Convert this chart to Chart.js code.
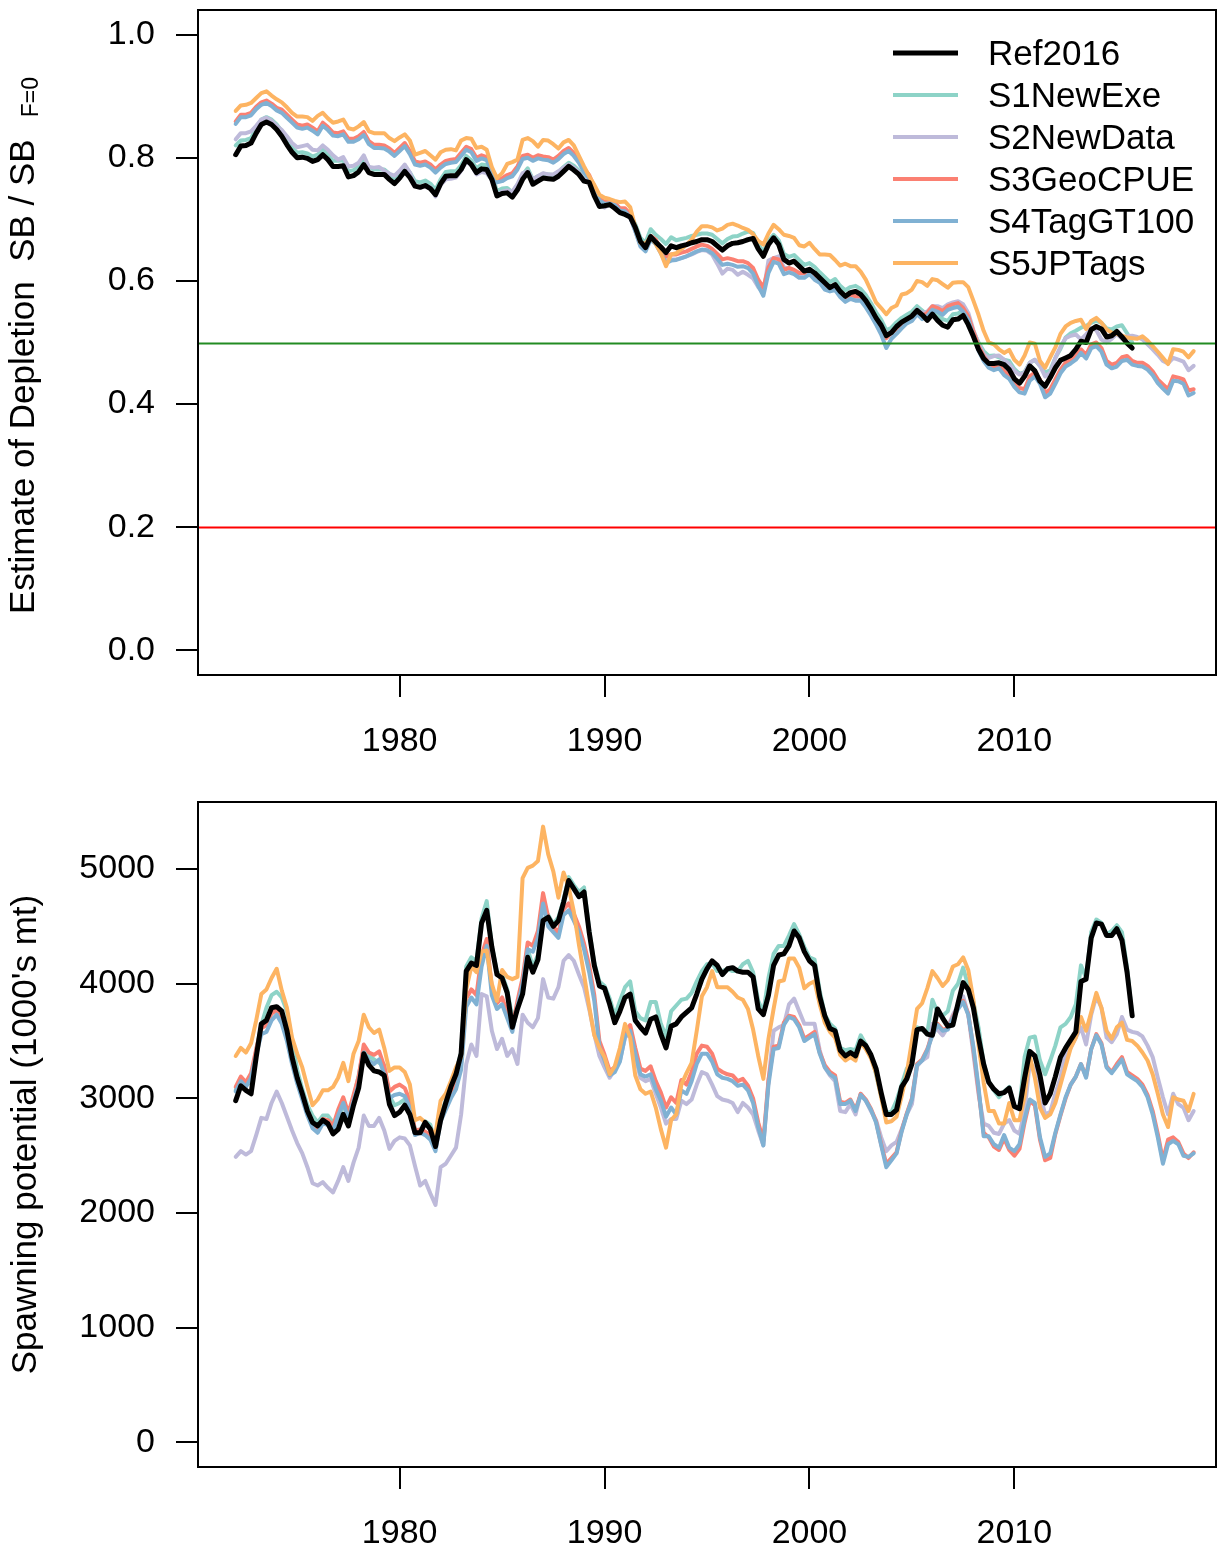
<!DOCTYPE html>
<html>
<head>
<meta charset="utf-8">
<script src="https://cdn.jsdelivr.net/npm/chart.js@4.4.1/dist/chart.umd.min.js"></script>
<style>
  html, body { margin: 0; padding: 0; background: #fff; }
  .panel { position: absolute; left: 0; width: 1225px; height: 776px; }
  #top-panel { top: 0; }
  #bottom-panel { top: 776px; }
</style>
</head>
<body>
<div class="panel" id="top-panel"><canvas id="depletion-chart"></canvas></div>
<div class="panel" id="bottom-panel"><canvas id="spawning-chart"></canvas></div>
<script>
// quarterly model output, 1972.00 .. 2018.75 (Ref2016 and S1 stop at 2015.75)
const seriesNames = ['Ref2016', 'S1NewExe', 'S2NewData', 'S3GeoCPUE', 'S4TagGT100', 'S5JPTags'];
const seriesColors = ['#000000', '#8DD3C7', '#BEBADA', '#FB8072', '#80B1D3', '#FDB462'];
const firstYear = 1972;
const quarterYears = Array.from({ length: 188 }, (_, i) => firstYear + i / 4);

const yearTicks = [1980, 1990, 2000, 2010];
const depletionTicks = [0, 0.2, 0.4, 0.6, 0.8, 1.0];
const spawningTicks = [0, 1000, 2000, 3000, 4000, 5000];
const depletionRefLevels = [0.5, 0.2];
const depletionRefColors = ['#228B22', '#FF0000'];

const refDepletion = [
  0.805, 0.819, 0.820, 0.824, 0.840, 0.854, 0.858, 0.854, 0.846, 0.835,
  0.821, 0.809, 0.800, 0.801, 0.799, 0.794, 0.797, 0.805, 0.797, 0.786,
  0.786, 0.787, 0.769, 0.771, 0.777, 0.789, 0.776, 0.773, 0.773, 0.773,
  0.765, 0.758, 0.767, 0.778, 0.768, 0.754, 0.752, 0.755, 0.750, 0.740,
  0.758, 0.770, 0.771, 0.771, 0.781, 0.797, 0.789, 0.776, 0.782, 0.781,
  0.765, 0.738, 0.742, 0.743, 0.736, 0.748, 0.765, 0.776, 0.757, 0.762,
  0.767, 0.766, 0.765, 0.770, 0.778, 0.786, 0.780, 0.773, 0.762, 0.760,
  0.738, 0.721, 0.722, 0.724, 0.718, 0.711, 0.708, 0.704, 0.687, 0.664,
  0.654, 0.672, 0.663, 0.655, 0.646, 0.657, 0.654, 0.657, 0.659, 0.662,
  0.664, 0.667, 0.667, 0.664, 0.657, 0.650, 0.657, 0.661, 0.662, 0.664,
  0.667, 0.669, 0.652, 0.640, 0.659, 0.670, 0.659, 0.635, 0.629, 0.632,
  0.624, 0.616, 0.619, 0.613, 0.605, 0.597, 0.589, 0.594, 0.583, 0.575,
  0.581, 0.583, 0.578, 0.568, 0.555, 0.540, 0.528, 0.511, 0.516, 0.526,
  0.533, 0.538, 0.543, 0.552, 0.545, 0.536, 0.546, 0.536, 0.528, 0.525,
  0.537, 0.538, 0.544, 0.529, 0.510, 0.489, 0.474, 0.466, 0.466, 0.467,
  0.464, 0.456, 0.441, 0.434, 0.445, 0.462, 0.454, 0.437, 0.429, 0.443,
  0.459, 0.471, 0.475, 0.479, 0.489, 0.502, 0.500, 0.521, 0.526, 0.522,
  0.509, 0.511, 0.518, 0.509, 0.499, 0.491
];
const s1Depletion = [
  0.820, 0.828, 0.829, 0.832, 0.848, 0.862, 0.866, 0.862, 0.854, 0.843,
  0.829, 0.817, 0.808, 0.809, 0.807, 0.802, 0.805, 0.813, 0.805, 0.795,
  0.795, 0.796, 0.778, 0.780, 0.786, 0.797, 0.785, 0.781, 0.781, 0.781,
  0.774, 0.767, 0.775, 0.786, 0.776, 0.762, 0.760, 0.763, 0.758, 0.748,
  0.765, 0.777, 0.778, 0.778, 0.788, 0.803, 0.796, 0.783, 0.789, 0.788,
  0.772, 0.746, 0.750, 0.751, 0.744, 0.756, 0.772, 0.783, 0.765, 0.770,
  0.774, 0.773, 0.772, 0.777, 0.785, 0.792, 0.787, 0.779, 0.768, 0.766,
  0.744, 0.727, 0.727, 0.729, 0.723, 0.716, 0.713, 0.709, 0.692, 0.670,
  0.662, 0.684, 0.675, 0.668, 0.660, 0.671, 0.666, 0.668, 0.670, 0.673,
  0.675, 0.677, 0.677, 0.675, 0.668, 0.661, 0.668, 0.672, 0.673, 0.677,
  0.680, 0.678, 0.660, 0.647, 0.665, 0.675, 0.666, 0.644, 0.639, 0.642,
  0.634, 0.626, 0.629, 0.623, 0.614, 0.606, 0.598, 0.603, 0.592, 0.585,
  0.590, 0.592, 0.587, 0.577, 0.564, 0.549, 0.537, 0.520, 0.524, 0.533,
  0.540, 0.545, 0.550, 0.559, 0.552, 0.544, 0.553, 0.545, 0.538, 0.535,
  0.546, 0.547, 0.552, 0.538, 0.518, 0.500, 0.486, 0.478, 0.479, 0.476,
  0.472, 0.470, 0.457, 0.449, 0.452, 0.467, 0.472, 0.462, 0.451, 0.455,
  0.475, 0.490, 0.508, 0.515, 0.519, 0.524, 0.527, 0.532, 0.535, 0.532,
  0.523, 0.521, 0.526, 0.528, 0.515, 0.500
];
const s2Depletion = [
  0.830, 0.840, 0.840, 0.843, 0.852, 0.862, 0.865, 0.860, 0.852, 0.845,
  0.835, 0.824, 0.817, 0.819, 0.821, 0.813, 0.812, 0.820, 0.813, 0.804,
  0.797, 0.801, 0.786, 0.787, 0.792, 0.804, 0.785, 0.784, 0.785, 0.779,
  0.774, 0.771, 0.779, 0.789, 0.776, 0.755, 0.752, 0.755, 0.752, 0.737,
  0.756, 0.765, 0.766, 0.768, 0.779, 0.794, 0.788, 0.773, 0.777, 0.775,
  0.764, 0.740, 0.745, 0.747, 0.745, 0.757, 0.775, 0.778, 0.765, 0.770,
  0.775, 0.773, 0.773, 0.778, 0.784, 0.789, 0.784, 0.776, 0.765, 0.763,
  0.740, 0.724, 0.719, 0.724, 0.719, 0.711, 0.708, 0.703, 0.681, 0.658,
  0.652, 0.670, 0.662, 0.648, 0.636, 0.635, 0.635, 0.637, 0.640, 0.643,
  0.647, 0.650, 0.649, 0.643, 0.628, 0.612, 0.620, 0.618, 0.610, 0.615,
  0.610, 0.604, 0.590, 0.581, 0.633, 0.637, 0.640, 0.622, 0.620, 0.617,
  0.610, 0.609, 0.616, 0.606, 0.602, 0.591, 0.587, 0.589, 0.578, 0.570,
  0.575, 0.573, 0.573, 0.562, 0.551, 0.537, 0.521, 0.513, 0.518, 0.524,
  0.529, 0.537, 0.543, 0.554, 0.548, 0.550, 0.559, 0.559, 0.556, 0.562,
  0.565, 0.567, 0.562, 0.548, 0.520, 0.499, 0.481, 0.475, 0.478, 0.479,
  0.472, 0.465, 0.454, 0.448, 0.451, 0.467, 0.472, 0.462, 0.445, 0.451,
  0.475, 0.493, 0.507, 0.511, 0.513, 0.505, 0.513, 0.524, 0.520, 0.505,
  0.500, 0.506, 0.514, 0.506, 0.510, 0.511, 0.509, 0.505, 0.497, 0.489,
  0.480, 0.470, 0.466, 0.475, 0.472, 0.469, 0.455, 0.462
];
const s3Depletion = [
  0.859, 0.870, 0.870, 0.873, 0.883, 0.890, 0.893, 0.888, 0.881, 0.878,
  0.870, 0.862, 0.854, 0.852, 0.854, 0.849, 0.843, 0.857, 0.850, 0.841,
  0.840, 0.843, 0.831, 0.831, 0.835, 0.842, 0.827, 0.821, 0.821, 0.820,
  0.815, 0.808, 0.816, 0.824, 0.811, 0.794, 0.792, 0.794, 0.789, 0.781,
  0.789, 0.795, 0.797, 0.798, 0.808, 0.818, 0.814, 0.800, 0.804, 0.801,
  0.781, 0.765, 0.767, 0.772, 0.775, 0.786, 0.803, 0.805, 0.800, 0.804,
  0.802, 0.801, 0.797, 0.803, 0.811, 0.816, 0.808, 0.797, 0.782, 0.772,
  0.752, 0.735, 0.728, 0.729, 0.727, 0.718, 0.718, 0.709, 0.686, 0.662,
  0.655, 0.673, 0.667, 0.652, 0.640, 0.643, 0.643, 0.646, 0.648, 0.652,
  0.656, 0.659, 0.657, 0.652, 0.644, 0.635, 0.637, 0.635, 0.632, 0.632,
  0.629, 0.621, 0.602, 0.589, 0.622, 0.637, 0.635, 0.618, 0.621, 0.618,
  0.613, 0.613, 0.618, 0.610, 0.605, 0.594, 0.591, 0.592, 0.581, 0.573,
  0.578, 0.575, 0.575, 0.564, 0.551, 0.537, 0.522, 0.507, 0.516, 0.521,
  0.529, 0.537, 0.540, 0.551, 0.543, 0.548, 0.559, 0.556, 0.551, 0.559,
  0.562, 0.564, 0.556, 0.543, 0.518, 0.494, 0.478, 0.466, 0.461, 0.464,
  0.453, 0.448, 0.435, 0.426, 0.424, 0.445, 0.451, 0.440, 0.418, 0.424,
  0.440, 0.456, 0.467, 0.472, 0.478, 0.489, 0.480, 0.497, 0.500, 0.491,
  0.470, 0.464, 0.467, 0.476, 0.478, 0.470, 0.467, 0.467, 0.462, 0.453,
  0.440, 0.432, 0.424, 0.445, 0.443, 0.440, 0.422, 0.424
];
const s4Depletion = [
  0.855, 0.866, 0.866, 0.869, 0.879, 0.886, 0.889, 0.884, 0.877, 0.873,
  0.865, 0.857, 0.849, 0.847, 0.849, 0.844, 0.838, 0.852, 0.845, 0.836,
  0.835, 0.838, 0.826, 0.826, 0.830, 0.837, 0.822, 0.816, 0.816, 0.815,
  0.810, 0.803, 0.811, 0.819, 0.806, 0.789, 0.787, 0.789, 0.784, 0.776,
  0.784, 0.790, 0.792, 0.793, 0.803, 0.813, 0.809, 0.795, 0.799, 0.796,
  0.776, 0.760, 0.762, 0.767, 0.770, 0.781, 0.798, 0.800, 0.795, 0.799,
  0.797, 0.796, 0.792, 0.798, 0.806, 0.811, 0.803, 0.792, 0.777, 0.767,
  0.748, 0.731, 0.725, 0.726, 0.723, 0.714, 0.713, 0.704, 0.681, 0.656,
  0.648, 0.667, 0.660, 0.645, 0.629, 0.633, 0.634, 0.637, 0.640, 0.644,
  0.648, 0.651, 0.650, 0.645, 0.636, 0.626, 0.628, 0.626, 0.623, 0.624,
  0.621, 0.612, 0.592, 0.576, 0.613, 0.631, 0.628, 0.611, 0.614, 0.611,
  0.605, 0.605, 0.611, 0.602, 0.597, 0.586, 0.583, 0.585, 0.574, 0.566,
  0.571, 0.568, 0.568, 0.557, 0.544, 0.529, 0.513, 0.491, 0.506, 0.514,
  0.523, 0.531, 0.535, 0.546, 0.538, 0.543, 0.553, 0.550, 0.545, 0.553,
  0.556, 0.558, 0.550, 0.537, 0.511, 0.487, 0.470, 0.459, 0.455, 0.458,
  0.447, 0.441, 0.428, 0.419, 0.417, 0.438, 0.445, 0.433, 0.411, 0.417,
  0.433, 0.450, 0.461, 0.466, 0.472, 0.483, 0.474, 0.491, 0.494, 0.485,
  0.464, 0.458, 0.461, 0.470, 0.472, 0.464, 0.462, 0.461, 0.456, 0.447,
  0.434, 0.425, 0.417, 0.438, 0.437, 0.433, 0.414, 0.418
];
const s5Depletion = [
  0.876, 0.885, 0.886, 0.889, 0.897, 0.905, 0.908, 0.901, 0.895, 0.890,
  0.882, 0.873, 0.867, 0.867, 0.866, 0.860, 0.868, 0.873, 0.864, 0.857,
  0.859, 0.862, 0.848, 0.846, 0.851, 0.858, 0.843, 0.840, 0.840, 0.840,
  0.832, 0.827, 0.833, 0.838, 0.828, 0.805, 0.808, 0.811, 0.804, 0.797,
  0.809, 0.813, 0.814, 0.812, 0.828, 0.832, 0.831, 0.816, 0.818, 0.813,
  0.785, 0.767, 0.775, 0.790, 0.793, 0.797, 0.829, 0.832, 0.827, 0.818,
  0.829, 0.828, 0.822, 0.815, 0.825, 0.829, 0.820, 0.803, 0.786, 0.770,
  0.756, 0.740, 0.735, 0.733, 0.730, 0.728, 0.729, 0.720, 0.687, 0.662,
  0.660, 0.672, 0.660, 0.645, 0.624, 0.643, 0.645, 0.652, 0.659, 0.667,
  0.680, 0.689, 0.689, 0.687, 0.682, 0.685, 0.691, 0.693, 0.690, 0.686,
  0.683, 0.676, 0.665, 0.659, 0.677, 0.691, 0.684, 0.675, 0.673, 0.670,
  0.658, 0.656, 0.662, 0.652, 0.643, 0.643, 0.642, 0.634, 0.625, 0.628,
  0.624, 0.624, 0.615, 0.602, 0.584, 0.565, 0.556, 0.546, 0.556, 0.560,
  0.578, 0.580, 0.586, 0.600, 0.598, 0.592, 0.603, 0.601, 0.595, 0.589,
  0.597, 0.598, 0.598, 0.590, 0.568, 0.545, 0.519, 0.500, 0.497, 0.489,
  0.483, 0.488, 0.472, 0.464, 0.479, 0.500, 0.498, 0.470, 0.459, 0.476,
  0.492, 0.514, 0.526, 0.532, 0.535, 0.537, 0.522, 0.535, 0.540, 0.532,
  0.521, 0.516, 0.514, 0.511, 0.508, 0.507, 0.506, 0.510, 0.503, 0.494,
  0.485, 0.475, 0.465, 0.489, 0.488, 0.485, 0.476, 0.486
];

const refSpawning = [
  2980, 3110, 3070, 3040, 3360, 3650, 3680, 3790, 3800, 3760,
  3590, 3360, 3180, 3040, 2890, 2790, 2760, 2810, 2780, 2690,
  2730, 2860, 2760, 2940, 3090, 3390, 3290, 3240, 3230, 3200,
  2950, 2850, 2880, 2940, 2860, 2700, 2700, 2790, 2730, 2580,
  2810, 2960, 3100, 3210, 3390, 4110, 4180, 4160, 4530, 4640,
  4320, 4080, 4050, 3920, 3620, 3780, 3910, 4230, 4100, 4210,
  4550, 4580, 4500, 4550, 4710, 4900, 4830, 4760, 4800, 4450,
  4160, 3980, 3960, 3820, 3660, 3760, 3880, 3910, 3680, 3620,
  3570, 3690, 3710, 3560, 3440, 3630, 3650, 3710, 3750, 3790,
  3910, 4040, 4130, 4200, 4160, 4080, 4130, 4140, 4110, 4100,
  4100, 4060, 3780, 3730, 3900, 4160, 4250, 4260, 4330, 4460,
  4400, 4280, 4200, 4160, 3890, 3720, 3610, 3590, 3420, 3370,
  3400, 3370, 3500, 3460, 3380, 3260, 3050, 2860, 2860, 2900,
  3100, 3170, 3300, 3600, 3610, 3560, 3550, 3780, 3700, 3630,
  3640, 3830, 4010, 3950, 3790, 3530, 3300, 3140, 3080, 3040,
  3050, 3090, 2930, 2910, 3180, 3410, 3370, 3200, 2960, 3040,
  3190, 3360, 3440, 3510, 3580, 4020, 4040, 4400, 4530, 4520,
  4420, 4420, 4480, 4380, 4100, 3720
];
const s1Spawning = [
  3070, 3180, 3140, 3130, 3420, 3640, 3790, 3900, 3930, 3880,
  3760, 3500, 3250, 3080, 2940, 2850, 2790, 2850, 2850, 2790,
  2820, 2950, 2830, 3000, 3200, 3430, 3370, 3340, 3310, 3290,
  3020, 2940, 2960, 2990, 2900, 2730, 2720, 2800, 2770, 2600,
  2850, 2980, 3110, 3230, 3400, 4150, 4230, 4200, 4570, 4720,
  4330, 4100, 4080, 3950, 3700, 3800, 3960, 4300, 4150, 4250,
  4560, 4600, 4520, 4580, 4730, 4930, 4860, 4800, 4840, 4470,
  4180, 4020, 3980, 3870, 3720, 3850, 3970, 4020, 3760, 3700,
  3680, 3840, 3840, 3650, 3540, 3760, 3810, 3860, 3870, 3920,
  4020, 4110, 4170, 4180, 4110, 4110, 4130, 4110, 4110, 4170,
  4200, 4100, 3850, 3750, 4050, 4260, 4330, 4330, 4420, 4520,
  4430, 4320, 4230, 4210, 3940, 3730, 3650, 3610, 3440, 3420,
  3430, 3420, 3550, 3470, 3380, 3210, 3020, 2880, 2880, 2980,
  3120, 3260, 3310, 3620, 3600, 3570, 3860, 3750, 3720, 3760,
  3940, 4000, 4140, 3980, 3840, 3620, 3310, 3150, 3070, 3010,
  3060, 3100, 2930, 2920, 3360, 3530, 3540, 3330, 3210, 3330,
  3460, 3620, 3650, 3710, 3820, 4160, 4050, 4450, 4560, 4530,
  4430, 4460, 4510, 4450, 4140, 3720
];
const s2Spawning = [
  2490, 2540, 2510, 2540, 2680, 2830, 2820, 2960, 3060, 2960,
  2840, 2720, 2610, 2520, 2400, 2260, 2240, 2270, 2220, 2180,
  2280, 2400, 2280, 2440, 2570, 2850, 2760, 2760, 2830, 2720,
  2560, 2630, 2660, 2650, 2590, 2410, 2240, 2280, 2170, 2070,
  2400, 2430, 2500, 2570, 2860, 3300, 3470, 3370, 3910, 3890,
  3590, 3430, 3520, 3370, 3430, 3300, 3730, 3660, 3620, 3700,
  4040, 3880, 3870, 3970, 4200, 4250, 4200, 4080, 3970, 3780,
  3560, 3370, 3270, 3180, 3250, 3330, 3530, 3570, 3370, 3180,
  3150, 3170, 3040, 2920, 2780, 2820, 2820, 2980, 2950, 2990,
  3120, 3230, 3210, 3120, 3020, 2990, 2980, 2960, 2880, 2960,
  2920, 2860, 2720, 2590, 3150, 3590, 3620, 3640, 3820, 3870,
  3760, 3650, 3650, 3650, 3420, 3270, 3200, 3150, 2890, 2880,
  2950, 2860, 3040, 2980, 2890, 2810, 2660, 2540, 2590, 2620,
  2730, 2860, 2950, 3280, 3330, 3360, 3650, 3600, 3550, 3620,
  3730, 3810, 3890, 3730, 3390, 3040, 2780, 2760, 2700, 2690,
  2780, 2810, 2720, 2690, 2890, 3310, 3260, 3040, 2860, 2880,
  3040, 3180, 3390, 3440, 3530, 3620, 3470, 3730, 3890, 3790,
  3530, 3490, 3560, 3710, 3600, 3580, 3570, 3540, 3460, 3360,
  3180, 3010, 2860, 3040, 2950, 2920, 2810, 2890
];
const s3Spawning = [
  3100, 3190, 3140, 3220, 3430, 3610, 3640, 3740, 3770, 3700,
  3550, 3350, 3180, 3030, 2890, 2780, 2740, 2820, 2810, 2760,
  2900, 3010, 2870, 3030, 3190, 3470, 3400, 3380, 3410, 3280,
  3060, 3100, 3120, 3090, 2980, 2720, 2730, 2710, 2680, 2560,
  2840, 2940, 3040, 3120, 3310, 3870, 3950, 3900, 4250, 4390,
  3960, 3830, 3880, 3750, 3620, 3850, 4050, 4360, 4330, 4460,
  4790, 4580, 4500, 4440, 4650, 4700, 4610, 4500, 4350, 4160,
  3900, 3500, 3380, 3240, 3270, 3360, 3580, 3640, 3440, 3260,
  3240, 3280, 3150, 3050, 2920, 3010, 2960, 3160, 3120, 3230,
  3390, 3460, 3450, 3390, 3260, 3230, 3210, 3200, 3150, 3170,
  3110, 3000, 2790, 2630, 3160, 3450, 3460, 3660, 3720, 3710,
  3640, 3520, 3550, 3580, 3400, 3290, 3230, 3200, 2970, 2960,
  2990, 2900, 3040, 2990, 2910, 2800, 2600, 2430, 2480, 2530,
  2720, 2870, 3000, 3300, 3340, 3430, 3560, 3650, 3600, 3610,
  3710, 3790, 3850, 3740, 3430, 3070, 2700, 2660, 2580, 2550,
  2650, 2550, 2500, 2560, 2790, 2980, 2940, 2640, 2460, 2480,
  2690, 2850, 3000, 3120, 3190, 3300, 3190, 3430, 3560, 3480,
  3280, 3230, 3300, 3360, 3230, 3200, 3170, 3120, 3030, 2890,
  2690, 2460, 2640, 2660, 2620, 2520, 2480, 2530
];
const s4Spawning = [
  3060, 3150, 3100, 3180, 3380, 3560, 3580, 3680, 3730, 3650,
  3500, 3300, 3130, 2990, 2850, 2740, 2700, 2780, 2770, 2720,
  2850, 2960, 2820, 2980, 3130, 3400, 3330, 3300, 3340, 3210,
  3000, 3030, 3040, 3020, 2920, 2680, 2700, 2680, 2640, 2540,
  2800, 2900, 3000, 3080, 3250, 3800, 3880, 3820, 4150, 4330,
  3900, 3780, 3820, 3700, 3580, 3800, 4000, 4300, 4280, 4400,
  4700, 4500, 4450, 4400, 4600, 4640, 4550, 4450, 4300, 4100,
  3850, 3450, 3330, 3200, 3230, 3320, 3540, 3590, 3390, 3210,
  3190, 3210, 3080, 2980, 2840, 2920, 2860, 3070, 3040, 3150,
  3300, 3390, 3390, 3320, 3210, 3180, 3170, 3150, 3110, 3120,
  3070, 2960, 2750, 2590, 3120, 3430, 3440, 3640, 3710, 3690,
  3620, 3500, 3530, 3560, 3390, 3270, 3210, 3180, 2950, 2950,
  2980, 2890, 3030, 2980, 2900, 2790, 2590, 2400, 2460, 2520,
  2710, 2860, 2990, 3290, 3330, 3420, 3550, 3640, 3590, 3600,
  3700, 3780, 3840, 3730, 3450, 3100, 2670, 2670, 2600, 2570,
  2680, 2570, 2540, 2600, 2820, 2990, 2960, 2660, 2490, 2520,
  2700, 2860, 3010, 3120, 3190, 3300, 3180, 3430, 3550, 3470,
  3270, 3220, 3280, 3340, 3210, 3180, 3150, 3100, 3010, 2860,
  2660, 2430, 2600, 2630, 2600, 2500, 2490, 2520
];
const s5Spawning = [
  3370, 3440, 3400, 3480, 3680, 3910, 3950, 4050, 4130, 3940,
  3790, 3530, 3390, 3270, 3100, 2940, 2990, 3070, 3070, 3100,
  3180, 3310, 3150, 3390, 3500, 3730, 3620, 3570, 3600, 3440,
  3240, 3270, 3270, 3230, 3120, 2810, 2830, 2790, 2730, 2690,
  2980, 3040, 3150, 3270, 3360, 3950, 4150, 4100, 4280, 4290,
  4000, 3850, 4120, 4060, 4040, 4060, 4920, 5010, 5030, 5070,
  5370, 5130, 4980, 4750, 4970, 4840, 4630, 4340, 4080, 3800,
  3550, 3440, 3360, 3210, 3280, 3440, 3650, 3530, 3200, 3080,
  3040, 3060, 2920, 2730, 2570, 2810, 2860, 3120, 3220, 3310,
  3590, 3890, 3970, 4110, 3970, 3970, 3970, 3930, 3880, 3860,
  3780, 3600, 3370, 3170, 3520, 3780, 4020, 4030, 4220, 4220,
  4140, 3960, 4000, 4020, 3820, 3660, 3580, 3530, 3380, 3330,
  3360, 3330, 3490, 3430, 3350, 3220, 3010, 2790, 2800, 2840,
  3020, 3220, 3500, 3780, 3830, 3960, 4110, 4050, 3980, 4030,
  4150, 4170, 4230, 4120, 3860, 3470, 3140, 2890, 2890, 2780,
  2780, 2960, 2810, 2810, 3020, 3370, 3180, 2920, 2830, 2860,
  2960, 3120, 3280, 3440, 3530, 3710, 3590, 3750, 3920, 3790,
  3590, 3520, 3620, 3660, 3510, 3500, 3460, 3400, 3330, 3210,
  3040, 2860, 2750, 3010, 2990, 2980, 2890, 3040
];

const depletionSeries = [refDepletion, s1Depletion, s2Depletion, s3Depletion, s4Depletion, s5Depletion];
const spawningSeries = [refSpawning, s1Spawning, s2Spawning, s3Spawning, s4Spawning, s5Spawning];

const FONT = '"Liberation Sans", Arial, Helvetica, sans-serif';
Chart.defaults.font.family = FONT;
Chart.defaults.font.size = 34;
Chart.defaults.color = '#000';

// R style axis range: data limits stretched 4% each side
function rRange(lo, hi) {
  const pad = (hi - lo) * 0.04;
  return [lo - pad, hi + pad];
}
const xRange = rRange(firstYear, 2018);
const depletionRange = rRange(0, 1);
const spawningRange = rRange(0, Math.max(...spawningSeries.flat()));

function makeDatasets(seriesList) {
  return seriesList.map((values, i) => ({
    label: seriesNames[i],
    data: values.map((v, k) => ({ x: quarterYears[k], y: v })),
    borderColor: seriesColors[i],
    borderWidth: i === 0 ? 5 : 4,
    pointRadius: 0,
    tension: 0,
    fill: false,
    borderJoinStyle: 'round',
    borderCapStyle: 'round',
    order: i === 0 ? 0 : 7 - i
  }));
}

const axisGrid = {
  display: true,
  drawOnChartArea: false,
  drawTicks: true,
  tickLength: 22,
  tickWidth: 2,
  tickColor: '#000',
  color: '#000',
  lineWidth: 2
};

function makeScales(yRange, yTicks, yFormat, xAxisHeight) {
  return {
    x: {
      type: 'linear',
      min: xRange[0],
      max: xRange[1],
      grid: axisGrid,
      border: { display: false },
      ticks: { padding: 24, maxRotation: 0, autoSkip: false, callback: v => String(v) },
      afterBuildTicks: s => { s.ticks = yearTicks.map(v => ({ value: v })); },
      afterFit: s => { s.height = xAxisHeight; s.paddingLeft = 0; s.paddingRight = 0; }
    },
    y: {
      type: 'linear',
      min: yRange[0],
      max: yRange[1],
      grid: axisGrid,
      border: { display: false },
      ticks: { padding: 21, callback: yFormat },
      afterBuildTicks: s => { s.ticks = yTicks.map(v => ({ value: v })); },
      afterFit: s => { s.width = 198; s.paddingTop = 0; s.paddingBottom = 0; }
    }
  };
}

// plot frame, as R's box()
const framePlugin = {
  id: 'frame',
  afterDraw(chart) {
    const { ctx, chartArea: a } = chart;
    ctx.save();
    ctx.strokeStyle = '#000';
    ctx.lineWidth = 2;
    ctx.strokeRect(a.left, a.top, a.right - a.left, a.bottom - a.top);
    ctx.restore();
  }
};

// horizontal reference levels (abline h=)
const refLinePlugin = {
  id: 'refLines',
  afterDatasetsDraw(chart, args, opts) {
    if (!opts.levels) return;
    const { ctx, chartArea: a, scales } = chart;
    ctx.save();
    ctx.lineWidth = 2;
    opts.levels.forEach((lvl, i) => {
      const y = Math.round(scales.y.getPixelForValue(lvl)) + 0.5;
      ctx.strokeStyle = opts.colors[i];
      ctx.beginPath();
      ctx.moveTo(a.left, y);
      ctx.lineTo(a.right, y);
      ctx.stroke();
    });
    ctx.restore();
  }
};

// rotated y axis title, optional small trailing part
const yTitlePlugin = {
  id: 'yTitle',
  afterDraw(chart, args, opts) {
    if (!opts.text) return;
    const { ctx, chartArea: a } = chart;
    const cy = (a.top + a.bottom) / 2 + (opts.shift || 0);
    ctx.save();
    ctx.fillStyle = '#000';
    ctx.textAlign = 'left';
    ctx.textBaseline = 'alphabetic';
    ctx.font = '35px ' + FONT;
    const mainW = ctx.measureText(opts.text).width;
    let subW = 0;
    if (opts.sub) {
      ctx.font = '23px ' + FONT;
      subW = ctx.measureText(opts.sub).width;
    }
    const total = mainW + (opts.sub ? opts.gap + subW : 0);
    ctx.translate(opts.baseline, cy);
    ctx.rotate(-Math.PI / 2);
    ctx.font = '35px ' + FONT;
    ctx.fillText(opts.text, -total / 2, 0);
    if (opts.sub) {
      ctx.font = '23px ' + FONT;
      ctx.fillText(opts.sub, -total / 2 + mainW + opts.gap, opts.subShift);
    }
    ctx.restore();
  }
};

// legend block in top right corner, no frame
const legendPlugin = {
  id: 'cornerLegend',
  afterDraw(chart, args, opts) {
    if (!opts.show) return;
    const { ctx } = chart;
    ctx.save();
    ctx.font = '35px ' + FONT;
    ctx.textBaseline = 'middle';
    ctx.textAlign = 'left';
    seriesNames.forEach((name, i) => {
      const y = opts.top + i * opts.step;
      ctx.strokeStyle = seriesColors[i];
      ctx.lineWidth = i === 0 ? 5 : 4;
      ctx.lineCap = 'butt';
      ctx.beginPath();
      ctx.moveTo(opts.lineX0, y);
      ctx.lineTo(opts.lineX1, y);
      ctx.stroke();
      ctx.fillStyle = '#000';
      ctx.fillText(name, opts.textX, y + 2);
    });
    ctx.restore();
  }
};

function commonOptions(extra) {
  return Object.assign({
    responsive: true,
    maintainAspectRatio: false,
    animation: false,
    devicePixelRatio: 1,
    events: []
  }, extra);
}

new Chart(document.getElementById('depletion-chart').getContext('2d'), {
  type: 'line',
  data: { datasets: makeDatasets(depletionSeries) },
  plugins: [refLinePlugin, framePlugin, yTitlePlugin, legendPlugin],
  options: commonOptions({
    layout: { padding: { top: 10, right: 9, left: 0, bottom: 0 } },
    scales: makeScales(depletionRange, depletionTicks, v => v.toFixed(1), 101),
    plugins: {
      legend: { display: false },
      tooltip: { enabled: false },
      refLines: { levels: depletionRefLevels, colors: depletionRefColors },
      yTitle: { text: 'Estimate of Depletion  SB / SB', sub: 'F=0', gap: 22, subShift: 4, baseline: 34, shift: 3 },
      cornerLegend: { show: true, top: 53, step: 42, lineX0: 893, lineX1: 958, textX: 988 }
    }
  })
});

new Chart(document.getElementById('spawning-chart').getContext('2d'), {
  type: 'line',
  data: { datasets: makeDatasets(spawningSeries) },
  plugins: [framePlugin, yTitlePlugin],
  options: commonOptions({
    layout: { padding: { top: 26, right: 9, left: 0, bottom: 0 } },
    scales: makeScales(spawningRange, spawningTicks, v => String(v), 85),
    plugins: {
      legend: { display: false },
      tooltip: { enabled: false },
      yTitle: { text: "Spawning potential (1000's mt)", baseline: 36 }
    }
  })
});
</script>
</body>
</html>
